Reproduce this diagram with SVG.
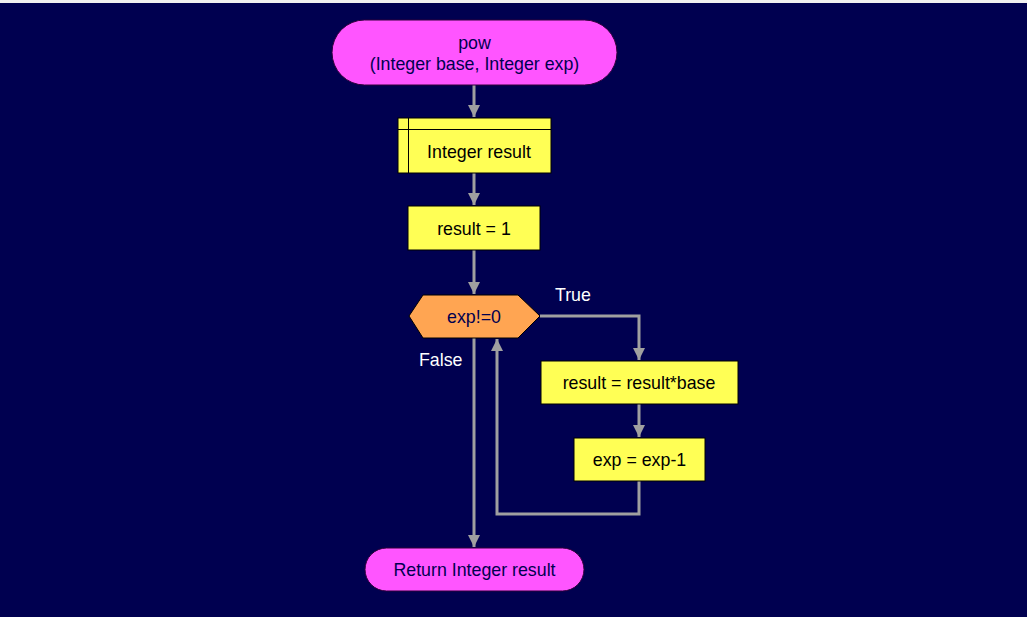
<svg xmlns="http://www.w3.org/2000/svg" width="1027" height="617" viewBox="0 0 1027 617">
<style>
text{font-family:"Liberation Sans",Arial,sans-serif;font-size:17.8px;text-anchor:middle}
.term{fill:#ff55ff;stroke:#30003a;stroke-width:1}
.box{fill:#ffff55;stroke:#000000;stroke-width:1}
.dec{fill:#ffa552;stroke:#000000;stroke-width:1}
.dark{fill:#000050}
.blk{fill:#000000}
.lbl{fill:#ffffff;text-anchor:start}
.conn{fill:none;stroke:#a0a0a0;stroke-width:3}
</style>
<defs>
<marker id="ah" markerUnits="userSpaceOnUse" markerWidth="14" markerHeight="14" refX="12" refY="6" orient="auto">
<path d="M0,0 L12,6 L0,12 Z" fill="#a0a0a0"/>
</marker>
</defs>
<rect x="0" y="0" width="1027" height="617" fill="#000050"/>
<rect x="0" y="0" width="1027" height="3" fill="#f0f0f0"/>
<g id="connectors">
<path class="conn" d="M474,85 V117" marker-end="url(#ah)"/>
<path class="conn" d="M474,173 V205" marker-end="url(#ah)"/>
<path class="conn" d="M474,250 V294" marker-end="url(#ah)"/>
<path class="conn" d="M540,316 H639 V360" marker-end="url(#ah)"/>
<path class="conn" d="M639,404 V437" marker-end="url(#ah)"/>
<path class="conn" d="M639,481 V514 H497 V339" marker-end="url(#ah)"/>
<path class="conn" d="M474,338 V547" marker-end="url(#ah)"/>
</g>
<g id="start">
<rect class="term" x="332" y="20" width="285" height="65" rx="32.5"/>
<text class="dark" x="474.5" y="49">pow</text>
<text class="dark" x="474.5" y="70">(Integer base, Integer exp)</text>
</g>
<g id="declare">
<rect class="box" x="398" y="118" width="153" height="55"/>
<line x1="408.5" y1="118" x2="408.5" y2="173" stroke="#000" stroke-width="1"/>
<line x1="398" y1="129.5" x2="551" y2="129.5" stroke="#000" stroke-width="1"/>
<text class="blk" x="479" y="158">Integer result</text>
</g>
<g id="init">
<rect class="box" x="408" y="206" width="132" height="44"/>
<text class="blk" x="474" y="234.5">result = 1</text>
</g>
<g id="cond">
<polygon class="dec" points="409,316 423,295 518,295 540,316 518,338 423,338"/>
<text class="dark" x="474" y="322.5">exp!=0</text>
</g>
<text class="lbl" x="555" y="301">True</text>
<text class="lbl" x="419" y="366">False</text>
<g id="mult">
<rect class="box" x="541" y="361" width="197" height="43"/>
<text class="blk" x="639" y="389">result = result*base</text>
</g>
<g id="dec1">
<rect class="box" x="574" y="438" width="131" height="43"/>
<text class="blk" x="639.5" y="466">exp = exp-1</text>
</g>
<g id="end">
<rect class="term" x="365" y="548" width="219" height="43" rx="21.5"/>
<text class="dark" x="474.5" y="576">Return Integer result</text>
</g>
</svg>
